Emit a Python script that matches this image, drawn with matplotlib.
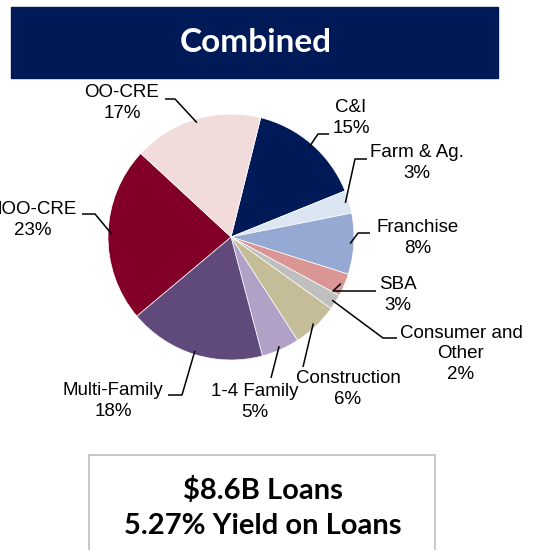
#!/usr/bin/env python3
import numpy as np
import matplotlib
matplotlib.use('Agg')
import matplotlib.pyplot as plt
from matplotlib.patches import Rectangle

# loan mix, clockwise from the top
categories = ['C&I', 'Farm & Ag.', 'Franchise', 'SBA', 'Consumer and\nOther',
              'Construction', '1-4 Family', 'Multi-Family', 'NOO-CRE', 'OO-CRE']
shares = [15, 3, 8, 3, 2, 6, 5, 18, 23, 17]
colors = ['#001A57', '#DCE6F2', '#95A9D3', '#D99694', '#BFBFBF',
          '#C4BD97', '#B2A1C7', '#604A7B', '#820027', '#F2DCDB']
title = 'Combined'
summary = ['$8.6B Loans', '5.27% Yield on Loans']

W, H = 539, 550
def py(y):
    # pixel row (from top) -> data y
    return H - y

# label layout: text centre, elbow point, end of horizontal stub (pixels from top)
layout = {
    'C&I':               dict(text=(351, 118), elbow=(318, 134), stub=(329, 134)),
    'Farm & Ag.':        dict(text=(417, 163), elbow=(355, 159), stub=(367, 159)),
    'Franchise':         dict(text=(418, 238), elbow=(358, 233), stub=(370, 233)),
    'SBA':               dict(text=(398, 295), elbow=(333, 291), stub=(376, 291)),
    'Consumer and\nOther': dict(text=(461, 354), elbow=(383, 338), stub=(397, 338)),
    'Construction':      dict(text=(348, 389), elbow=(303, 367), stub=(303, 367)),
    '1-4 Family':        dict(text=(255, 402), elbow=(271, 378), stub=(271, 378)),
    'Multi-Family':      dict(text=(113, 401), elbow=(182, 395), stub=(168, 395)),
    'NOO-CRE':           dict(text=(33, 220), elbow=(95, 214), stub=(82, 214)),
    'OO-CRE':            dict(text=(122, 103), elbow=(175, 99), stub=(165, 99)),
}

cx, cy, r = 231, 237, 123

fig = plt.figure(figsize=(W / 100, H / 100), dpi=100)
ax = fig.add_axes([0, 0, 1, 1])

# title banner
ax.add_patch(Rectangle((11, py(78)), 487, 71, color='#001A57', zorder=1))
ax.text(256, py(43), title, color='white', fontsize=24, fontweight='bold',
        family='Lato', ha='center', va='center')

wedges, _ = ax.pie(shares, colors=colors, startangle=76, counterclock=False,
                   center=(cx, py(cy)), radius=r, frame=True,
                   wedgeprops={'edgecolor': 'white', 'linewidth': 0.5})
ax.set_xlim(0, W)
ax.set_ylim(0, H)
ax.set_aspect('equal')
ax.axis('off')

for w, cat, val in zip(wedges, categories, shares):
    mid = np.deg2rad((w.theta1 + w.theta2) / 2)
    ax0 = cx + 0.97 * r * np.cos(mid)
    ay0 = py(cy) + 0.97 * r * np.sin(mid)
    L = layout[cat]
    ex, ey = L['elbow']
    sx, sy = L['stub']
    ax.plot([ax0, ex, sx], [ay0, py(ey), py(sy)], color='black', lw=1.1,
            solid_capstyle='butt', zorder=3)
    tx, ty = L['text']
    ax.text(tx, py(ty), f'{cat}\n{val}%', ha='center', va='center',
            fontsize=13.5, family='Liberation Sans', linespacing=1.3, zorder=4)

# summary box
ax.add_patch(Rectangle((89, py(560)), 346, 105, facecolor='white',
                       edgecolor='#BFBFBF', lw=1.2, zorder=1))
ax.text(263, py(490), summary[0], fontsize=21, fontweight='bold', family='Lato',
        ha='center', va='center')
ax.text(263, py(526), summary[1], fontsize=21, fontweight='bold', family='Lato',
        ha='center', va='center')

fig.savefig('out.png', dpi=100)
